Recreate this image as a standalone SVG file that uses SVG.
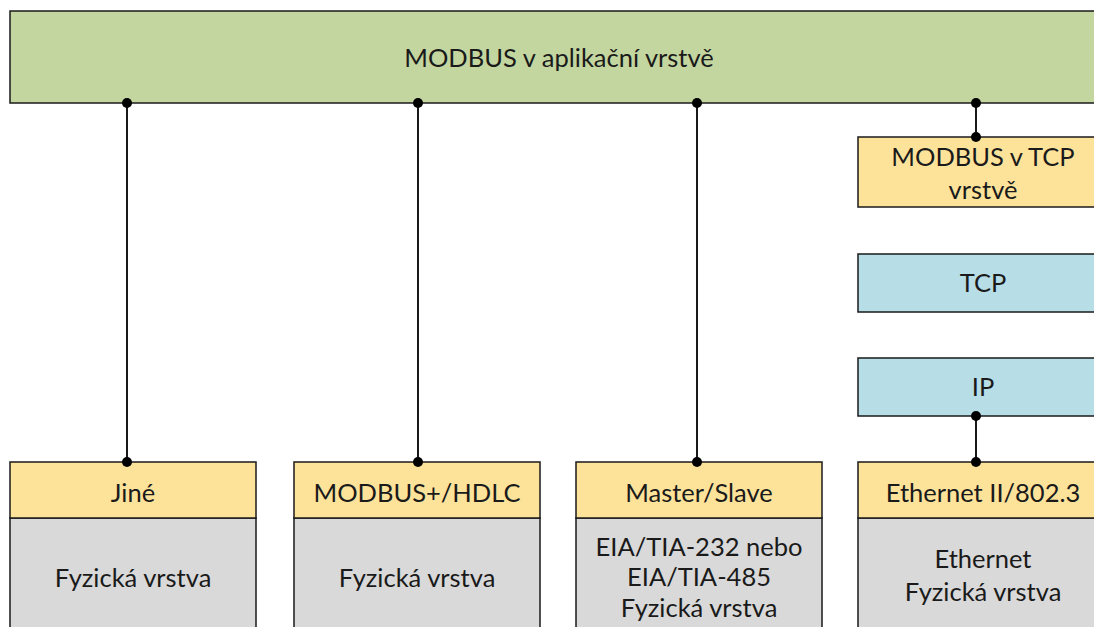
<svg xmlns="http://www.w3.org/2000/svg" width="1094" height="627" viewBox="0 0 1094 627">
  <style>
    .box { stroke: #1a1a1a; stroke-width: 1.5; }
    .app { fill: #c4d6a0; }
    .proto { fill: #fde39a; }
    .net { fill: #b7dde7; }
    .phys { fill: #d9d9d9; }
    text { font-family: Lato, "Open Sans", "DejaVu Sans", sans-serif; font-size: 25.5px; fill: #1a1a1a; text-anchor: middle; dominant-baseline: central; }
    .wire { stroke: #000; stroke-width: 1.8; fill: none; }
    .dot { fill: #000; }
  </style>
  <rect width="1094" height="627" fill="#ffffff"/>

  <g id="app-layer">
    <rect class="box app" x="10" y="11" width="1094" height="92"/>
    <text x="559" y="57">MODBUS v aplikační vrstvě</text>
  </g>

  <g id="modbus-tcp">
    <rect class="box proto" x="858" y="137" width="246" height="70"/>
    <text x="983" y="156">MODBUS v TCP</text>
    <text x="983" y="189">vrstvě</text>
  </g>
  <g id="tcp">
    <rect class="box net" x="858" y="254" width="246" height="58"/>
    <text x="983" y="282">TCP</text>
  </g>
  <g id="ip">
    <rect class="box net" x="858" y="358" width="246" height="58"/>
    <text x="983" y="386">IP</text>
  </g>

  <g id="jine">
    <rect class="box phys" x="10" y="518" width="246" height="120"/>
    <rect class="box proto" x="10" y="462" width="246" height="56"/>
    <text x="133" y="492">Jiné</text>
    <text x="133" y="577">Fyzická vrstva</text>
  </g>
  <g id="hdlc">
    <rect class="box phys" x="294" y="518" width="246" height="120"/>
    <rect class="box proto" x="294" y="462" width="246" height="56"/>
    <text x="417" y="492">MODBUS+/HDLC</text>
    <text x="417" y="577">Fyzická vrstva</text>
  </g>
  <g id="master-slave">
    <rect class="box phys" x="576" y="518" width="246" height="120"/>
    <rect class="box proto" x="576" y="462" width="246" height="56"/>
    <text x="699" y="492">Master/Slave</text>
    <text x="699" y="546">EIA/TIA-232 nebo</text>
    <text x="699" y="576">EIA/TIA-485</text>
    <text x="699" y="607">Fyzická vrstva</text>
  </g>
  <g id="ethernet">
    <rect class="box phys" x="858" y="518" width="246" height="120"/>
    <rect class="box proto" x="858" y="462" width="246" height="56"/>
    <text x="983" y="492">Ethernet II/802.3</text>
    <text x="983" y="558">Ethernet</text>
    <text x="983" y="591">Fyzická vrstva</text>
  </g>

  <g id="connectors">
    <line class="wire" x1="127" y1="103" x2="127" y2="462"/>
    <line class="wire" x1="418" y1="103" x2="418" y2="462"/>
    <line class="wire" x1="697" y1="103" x2="697" y2="462"/>
    <line class="wire" x1="976" y1="103" x2="976" y2="137"/>
    <line class="wire" x1="976" y1="416" x2="976" y2="462"/>
    <circle class="dot" cx="127" cy="103" r="5"/>
    <circle class="dot" cx="127" cy="462" r="5"/>
    <circle class="dot" cx="418" cy="103" r="5"/>
    <circle class="dot" cx="418" cy="462" r="5"/>
    <circle class="dot" cx="697" cy="103" r="5"/>
    <circle class="dot" cx="697" cy="462" r="5"/>
    <circle class="dot" cx="976" cy="103" r="5"/>
    <circle class="dot" cx="976" cy="137" r="5"/>
    <circle class="dot" cx="976" cy="416" r="5"/>
    <circle class="dot" cx="976" cy="462" r="5"/>
  </g>
</svg>
